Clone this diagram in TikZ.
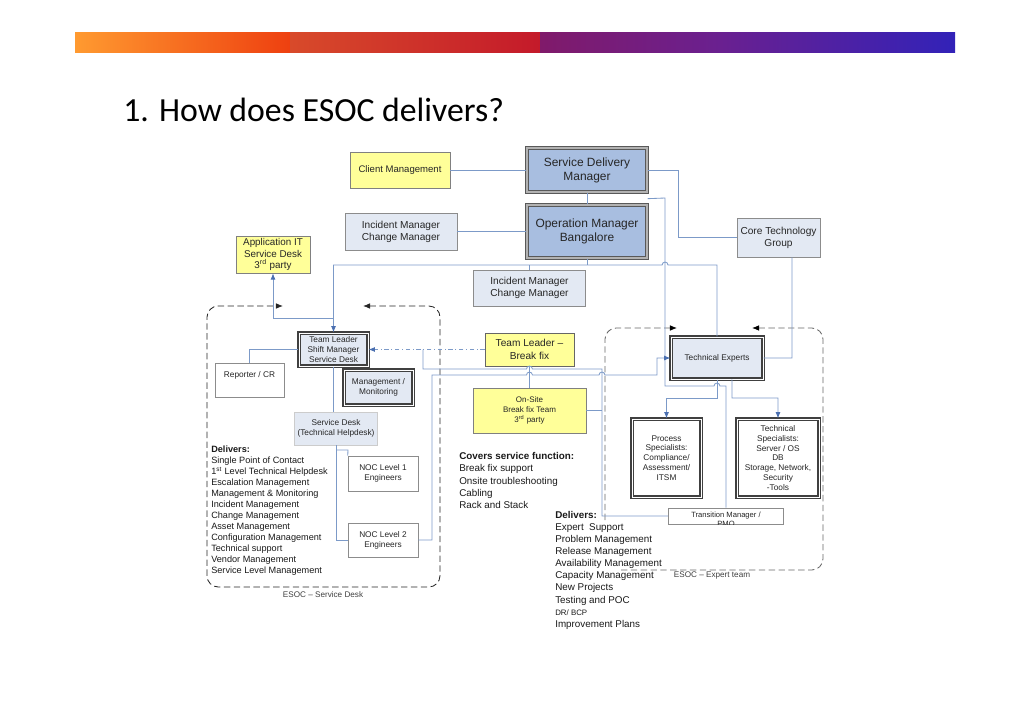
\documentclass[tikz,border=0pt]{standalone}
\usepackage{fontspec}
\setmainfont{Liberation Sans}
\newfontfamily\titlefont{Carlito}
\usetikzlibrary{arrows.meta}

\definecolor{boxyellow}{HTML}{FFFF99}
\definecolor{boxblue}{HTML}{A8BEE0}
\definecolor{boxlight}{HTML}{E3E9F3}
\definecolor{linkblue}{HTML}{7C9AC8}
\definecolor{arrowblue}{HTML}{4A6FB0}
\definecolor{barorange}{HTML}{FF9A30}
\definecolor{barredA}{HTML}{EE4010}
\definecolor{barredB}{HTML}{D84A2A}
\definecolor{barredC}{HTML}{C41A2A}
\definecolor{barpurple}{HTML}{801A6A}
\definecolor{barviolet}{HTML}{6A2090}
\definecolor{barblue}{HTML}{3222B8}

\begin{document}
\begin{tikzpicture}[x=0.025cm,y=-0.025cm,>={Latex[length=4.5pt,width=3.5pt]}]
  \tikzstyle{box}=[draw=black!45,inner sep=0pt,align=center,text=black!85,font=\fontsize{5.9}{7}\selectfont]
  \tikzstyle{ybox}=[box,fill=boxyellow,draw=black!50]
  \tikzstyle{lbox}=[box,fill=boxlight]
  \tikzstyle{wbox}=[box,fill=white]
  \tikzstyle{dbox}=[box,draw=black!75,line width=0.75pt,double=white,double distance=0.7pt]
  \tikzstyle{bbox}=[box,fill=boxblue,draw=black!65,line width=0.9pt,double=black!30,double distance=1.1pt,font=\fontsize{8.5}{10}\selectfont]
  \tikzstyle{link}=[draw=linkblue,line width=0.6pt]
  \tikzstyle{tolink}=[link,-{Latex[length=4.5pt,width=3.5pt,color=arrowblue]}]
  \tikzstyle{zone}=[dash pattern=on 4.5pt off 2.5pt,rounded corners=8pt,line width=0.6pt]
  \tikzstyle{list}=[anchor=north west,align=left,inner sep=0pt,text=black!90]
  \useasboundingbox (0,0) rectangle (1030,728);

  % header bar and title
  \shade[left color=barorange,right color=barredA] (75,33) rectangle (290,53);
  \shade[left color=barredB,right color=barredC] (290,33) rectangle (540,53);
  \shade[left color=barpurple,right color=barviolet] (540,33) rectangle (720,53);
  \shade[left color=barviolet,right color=barblue] (720,33) rectangle (955,53);
  \node[anchor=base west,inner sep=0pt,font=\titlefont\fontsize{24}{28}\selectfont] (title) at (123,122) {1. How does ESOC delivers?};

  % management boxes
  \node[ybox,minimum width=2.5cm,minimum height=0.9cm,font=\fontsize{6.8}{8}\selectfont] (clientm) at (400,170) {Client Management};
  \node[bbox,minimum width=3cm,minimum height=1.1cm] (sdm) at (587,170) {Service Delivery\\Manager};
  \node[bbox,minimum width=3cm,minimum height=1.325cm] (opm) at (587,231.5) {Operation Manager\\Bangalore};
  \node[lbox,minimum width=2.8cm,minimum height=0.925cm,font=\fontsize{7.2}{8.5}\selectfont] (incm1) at (401,231.5) {Incident Manager\\Change Manager};
  \node[ybox,minimum width=1.85cm,minimum height=0.925cm,font=\fontsize{7}{8.2}\selectfont] (appit) at (273,254.5) {Application IT\\Service Desk\\3\textsuperscript{rd} party};
  \node[lbox,minimum width=2.075cm,minimum height=0.975cm,font=\fontsize{7.2}{8.5}\selectfont] (coretg) at (778.5,237.5) {Core Technology\\Group};
  \node[lbox,minimum width=2.8cm,minimum height=0.9cm,font=\fontsize{7.2}{8.5}\selectfont] (incm2) at (529.5,288) {Incident Manager\\Change Manager};

  % service desk side
  \node[dbox,fill=boxlight,minimum width=1.725cm,minimum height=0.825cm] (tlsd) at (333.5,349.5) {Team Leader\\Shift Manager\\Service Desk};
  \node[wbox,minimum width=1.725cm,minimum height=0.85cm,text depth=8pt] (reporter) at (249.5,380) {Reporter / CR};
  \node[dbox,fill=boxlight,minimum width=1.725cm,minimum height=0.875cm] (mgmt) at (378.5,387.5) {Management /\\Monitoring};
  \node[lbox,draw=black!20,minimum width=2.075cm,minimum height=0.825cm] (sdesk) at (336,428.5) {Service Desk\\(Technical Helpdesk)};
  \node[wbox,minimum width=1.75cm,minimum height=0.875cm] (noc1) at (383,473.5) {NOC Level 1\\Engineers};
  \node[wbox,minimum width=1.75cm,minimum height=0.85cm] (noc2) at (383,540) {NOC Level 2\\Engineers};

  % break fix
  \node[ybox,draw=black!60,minimum width=2.225cm,minimum height=0.825cm,font=\fontsize{7.2}{9}\selectfont] (tlbf) at (529.5,349.5) {Team Leader –\\Break fix};
  \node[ybox,minimum width=2.825cm,minimum height=1.125cm,font=\fontsize{5.7}{7.2}\selectfont] (onsite) at (529.5,410.5) {On-Site\\Break fix Team\\3\textsuperscript{rd} party};

  % expert team
  \node[dbox,fill=boxlight,minimum width=2.3cm,minimum height=1.05cm] (texp) at (717,358) {Technical Experts};
  \node[dbox,fill=white,minimum width=1.725cm,minimum height=1.95cm] (procsp) at (666.5,458) {Process\\Specialists:\\Compliance/\\Assessment/\\ITSM};
  \node[dbox,fill=white,minimum width=2.05cm,minimum height=1.95cm] (techsp) at (778,458) {Technical\\Specialists:\\Server / OS\\DB\\Storage, Network,\\Security\\-Tools};
  \node[wbox,minimum width=2.875cm,minimum height=0.4cm] (transm) at (726,516) {};
  \begin{scope}
    \clip (transm.south west) rectangle (transm.north east);
    \node[align=center,inner sep=0pt,text=black!85,font=\fontsize{5.4}{6.5}\selectfont] (transmtxt) at ([yshift=-2.5pt]transm.center) {Transition Manager /\\PMO};
  \end{scope}

  % dashed team areas
  \draw[zone,black!85,{Latex[length=5pt,width=4pt]}-{Latex[length=5pt,width=4pt]}] (363,306) -- (440,306) -- (440,587) -- (207,587) -- (207,306) -- (283,306);
  \draw[zone,black!60,{Latex[length=5pt,width=4pt,color=black]}-] (752,328) -- (823,328) -- (823,570) -- (618,570);
  \draw[zone,black!60,-{Latex[length=5pt,width=4pt,color=black]}] (605,520) -- (605,328) -- (677,328);
  \node[font=\fontsize{5.8}{7}\selectfont,text=black!75] (sdlabel) at (323,595) {ESOC – Service Desk};
  \node[font=\fontsize{5.8}{7}\selectfont,text=black!75] (exlabel) at (712,575) {ESOC – Expert team};

  % text lists
  \node[list,font=\fontsize{6.5}{7.8}\selectfont] (sddel) at (211,446) {\textbf{Delivers:}\\Single Point of Contact\\1\textsuperscript{st} Level Technical Helpdesk\\Escalation Management\\Management \& Monitoring\\Incident Management\\Change Management\\Asset Management\\Configuration Management\\Technical support\\Vendor Management\\Service Level Management};
  \node[list,font=\fontsize{7}{8.8}\selectfont] (cover) at (459,452) {\textbf{Covers service function:}\\Break fix support\\Onsite troubleshooting\\Cabling\\Rack and Stack};
  \node[list,font=\fontsize{7}{8.6}\selectfont] (exdel) at (555,511) {\textbf{Delivers:}\\Expert\ \ Support\\Problem Management\\Release Management\\Availability Management\\Capacity Management\\New Projects\\Testing and POC\\{\fontsize{5.6}{8.6}\selectfont DR/ BCP}\\Improvement Plans};

  % connectors
  \draw[link] (clientm.east) -- (sdm.west);
  \draw[link] (sdm.south) -- (opm.north);
  \draw[link] (incm1.east) -- (opm.west);
  \draw[link] (opm.south) -- (587,265);
  \draw[link] (incm2.north) -- (529.5,265);
  \draw[tolink] (texp.north) -- (717,265) -- (668,265) arc[start angle=0,end angle=180,radius=2.1pt] -- (333.5,265) -- (tlsd.north);
  \draw[tolink] (333.5,318) -- (273,318) -- (appit.south);
  \draw[link] (sdm.east) -- (678,170) -- (678,237.5) -- (coretg.west);
  \draw[link] ([yshift=-4.3pt]sdm.south east) -- (665,198) -- (665,386) -- (714,386) arc[start angle=180,end angle=0,radius=2.1pt] -- (726,386) -- (transm.north);
  \draw[link] ([xshift=9.6pt]coretg.south) -- (792,358) -- (texp.east);
  \draw[tolink] (texp.south) -- (717,398) -- (666.5,398) -- (procsp.north);
  \draw[tolink] ([xshift=10.6pt]texp.south) -- (732,398) -- (778,398) -- (techsp.north);
  \draw[tolink,dash dot] (tlbf.west) -- (tlsd.east);
  \draw[link] (tlbf.south) -- (onsite.north);
  \draw[link] (423,349.5) -- (423,369) -- (526.5,369) arc[start angle=180,end angle=0,radius=2.1pt] -- (602,369) -- (602,516) -- (transm.west);
  \draw[link] (onsite.east) -- (602,410.5);
  \draw[tolink] (noc2.east) -- (432,540) -- (432,375) -- (526.5,375) arc[start angle=180,end angle=0,radius=2.1pt] -- (599,375) arc[start angle=180,end angle=0,radius=2.1pt] -- (657,375) -- (657,358) -- (texp.west);
  \draw[link] (tlsd.west) -- (249.5,349.5) -- (reporter.north);
  \draw[link] (tlsd.south) -- (tlsd.south |- sdesk.north);
  \draw[link] (sdesk.south) -- (336,540) -- (noc2.west);
  \draw[link] (336,450) -- (348,450) -- (noc1.north west);
\end{tikzpicture}
\end{document}
